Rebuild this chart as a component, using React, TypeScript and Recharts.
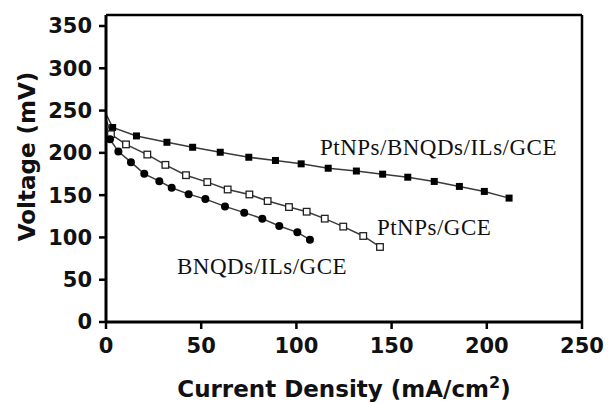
import { Label, Line, LineChart, ReferenceDot, ReferenceLine, XAxis, YAxis } from 'recharts';

// PtNPs/BNQDs/ILs/GCE (filled squares)
const bnqdIlsPtX = [0, 3.5, 16, 32, 45.5, 60, 75, 89, 102.5, 116.7, 131.5, 145.3, 158.5, 172.4, 185.6, 198.7, 211.7];
const bnqdIlsPtY = [246, 230, 220, 212.5, 206.6, 200.7, 194.8, 191, 187, 181.8, 178.5, 174.8, 171.2, 166.2, 160.3, 154.4, 146.5];

// PtNPs/GCE (open squares)
const ptX = [0, 2.6, 10.5, 21.7, 31.2, 42, 53.2, 63.9, 75.3, 84.9, 96.1, 105.4, 114.9, 124.6, 135.1, 143.9];
const ptY = [240, 222, 210, 198, 185.8, 173.6, 165.4, 156.7, 150.8, 143, 135.9, 130.4, 122.2, 112.8, 101.7, 88.7];

// BNQDs/ILs/GCE (filled circles)
const bnqdIlsX = [0, 2.1, 6.5, 13.1, 20.1, 28, 34.5, 43.4, 52.2, 62.5, 72.6, 82.1, 91, 100.5, 107.1];
const bnqdIlsY = [234, 216, 201.5, 189, 175.2, 166.5, 158.7, 151.2, 145.3, 136.7, 129.3, 122.2, 113.5, 106, 97.4];

const xTicks = [0, 50, 100, 150, 200, 250];
const yTicks = [0, 50, 100, 150, 200, 250, 300, 350];
const yTop = 363;

const labelNames = ['PtNPs/BNQDs/ILs/GCE', 'PtNPs/GCE', 'BNQDs/ILs/GCE'];
const labelX = [112.4, 142.3, 37.3];
const labelY = [197.5, 102.9, 56.8];

const toPoints = (xs: number[], ys: number[]) => xs.map((x, i) => ({ x, y: ys[i] }));

const sansBold = { fontFamily: '"DejaVu Sans", sans-serif', fontWeight: 700 };
const lineColor = '#3a3a3a';

// the open-circuit point at x = 0 sits under the axis, so no marker there
const FilledSquare = (props: any) => {
    const { cx, cy, index, payload } = props;
    if (payload?.x === 0) return <g key={`fs-${index}`} />;
    return <rect key={`fs-${index}`} x={cx - 3.5} y={cy - 3.5} width={7} height={7} fill="#000" />;
};

const OpenSquare = (props: any) => {
    const { cx, cy, index, payload } = props;
    if (payload?.x === 0) return <g key={`os-${index}`} />;
    return (
        <rect
            key={`os-${index}`}
            x={cx - 3.3}
            y={cy - 3.3}
            width={6.6}
            height={6.6}
            fill="#fff"
            stroke="#222"
            strokeWidth={1.3}
        />
    );
};

const FilledCircle = (props: any) => {
    const { cx, cy, index, payload } = props;
    if (payload?.x === 0) return <g key={`fc-${index}`} />;
    return <circle key={`fc-${index}`} cx={cx} cy={cy} r={4} fill="#000" />;
};

const SeriesLabel = ({ viewBox, text }: { viewBox?: any; text: string }) => {
    if (!viewBox) return null;
    return (
        <text
            x={viewBox.x}
            y={viewBox.y}
            fill="#111"
            fontSize={23}
            fontFamily='"Liberation Serif", "Times New Roman", serif'
            letterSpacing={0.5}
        >
            {text}
        </text>
    );
};

const XTitle = ({ viewBox }: { viewBox?: any }) => {
    if (!viewBox) return null;
    return (
        <text
            x={viewBox.x + viewBox.width / 2}
            y={397}
            textAnchor="middle"
            fontSize={23}
            fill="#111"
            {...sansBold}
        >
            Current Density (mA/cm
            <tspan dy={-9} fontSize={16}>
                2
            </tspan>
            <tspan dy={9}>)</tspan>
        </text>
    );
};

const YTitle = ({ viewBox }: { viewBox?: any }) => {
    if (!viewBox) return null;
    const cx = 27;
    const cy = viewBox.y + viewBox.height / 2 - 12;
    return (
        <text
            x={cx}
            y={cy}
            textAnchor="middle"
            dominantBaseline="central"
            transform={`rotate(-90, ${cx}, ${cy})`}
            fontSize={23}
            fill="#111"
            {...sansBold}
        >
            Voltage (mV)
        </text>
    );
};

const App = () => {
    return (
        <div style={{ position: 'absolute', left: 0, top: 0, background: '#fff' }}>
            <LineChart width={608} height={403} margin={{ top: 15, right: 26, bottom: 21, left: 0 }}>
                <XAxis
                    type="number"
                    dataKey="x"
                    domain={[0, 250]}
                    ticks={xTicks}
                    interval={0}
                    height={60}
                    axisLine={{ stroke: '#000', strokeWidth: 3 }}
                    tickLine={{ stroke: '#000', strokeWidth: 2.5 }}
                    tickSize={7}
                    tickMargin={9}
                    tick={{ fontSize: 21, fill: '#111', ...sansBold }}
                >
                    <Label content={<XTitle />} />
                </XAxis>
                <YAxis
                    type="number"
                    dataKey="y"
                    domain={[0, yTop]}
                    ticks={yTicks}
                    interval={0}
                    width={106}
                    axisLine={{ stroke: '#000', strokeWidth: 3 }}
                    tickLine={{ stroke: '#000', strokeWidth: 2.5 }}
                    tickSize={7}
                    tickMargin={7}
                    tick={{ fontSize: 21, fill: '#111', ...sansBold }}
                >
                    <Label content={<YTitle />} />
                </YAxis>

                <ReferenceLine y={yTop} stroke="#000" strokeWidth={2.5} />
                <ReferenceLine x={250} stroke="#000" strokeWidth={2.5} />

                <Line
                    data={toPoints(bnqdIlsPtX, bnqdIlsPtY)}
                    dataKey="y"
                    type="linear"
                    stroke={lineColor}
                    strokeWidth={1.5}
                    dot={FilledSquare}
                    activeDot={false}
                    isAnimationActive={false}
                />
                <Line
                    data={toPoints(ptX, ptY)}
                    dataKey="y"
                    type="linear"
                    stroke={lineColor}
                    strokeWidth={1.5}
                    dot={OpenSquare}
                    activeDot={false}
                    isAnimationActive={false}
                />
                <Line
                    data={toPoints(bnqdIlsX, bnqdIlsY)}
                    dataKey="y"
                    type="linear"
                    stroke={lineColor}
                    strokeWidth={1.5}
                    dot={FilledCircle}
                    activeDot={false}
                    isAnimationActive={false}
                />

                {labelNames.map((name, i) => (
                    <ReferenceDot
                        key={name}
                        x={labelX[i]}
                        y={labelY[i]}
                        r={0}
                        fill="none"
                        stroke="none"
                        label={<SeriesLabel text={name} />}
                    />
                ))}
            </LineChart>
        </div>
    );
};

export default App;
